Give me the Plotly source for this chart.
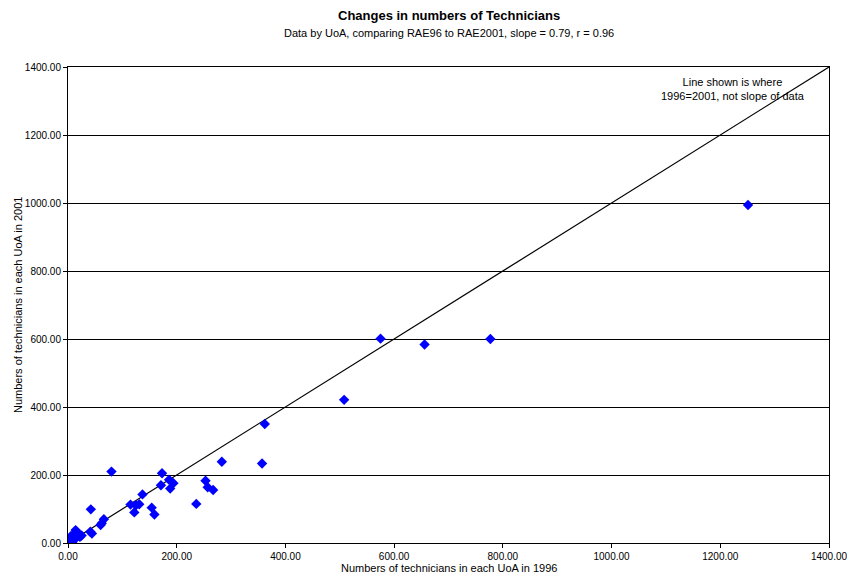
import plotly.graph_objects as go

# Numbers of technicians per UoA
techs_1996 = [1251, 777, 656, 575, 508, 362, 357, 283, 267, 257, 253, 236,
              194, 188, 186, 173, 171, 159, 154, 137, 131, 125, 122, 115,
              80, 66, 62, 60, 42, 44, 41,
              2, 4, 6, 8, 10, 12, 15, 18, 20, 22, 5, 10, 3, 15, 25, 8, 1, 14]
techs_2001 = [994, 600, 584, 601, 421, 350, 234, 239, 156, 164, 183, 115,
              176, 160, 186, 205, 170, 84, 104, 143, 114, 111, 90, 113,
              210, 70, 58, 53, 99, 28, 33,
              2, 8, 12, 18, 22, 28, 32, 30, 25, 18, 20, 10, 4, 15, 22, 3, 0, 38]

line_x = [0, 1400]
line_y = [0, 1400]

tick_vals = [0, 200, 400, 600, 800, 1000, 1200, 1400]
tick_text = ["0.00", "200.00", "400.00", "600.00", "800.00", "1000.00", "1200.00", "1400.00"]

FONT = "Liberation Sans, Arial, sans-serif"

fig = go.Figure()
fig.add_trace(go.Scatter(x=line_x, y=line_y, mode="lines",
                         line=dict(color="black", width=1.2),
                         showlegend=False, hoverinfo="skip"))
fig.add_trace(go.Scatter(x=techs_1996, y=techs_2001, mode="markers",
                         marker=dict(symbol="diamond", color="#0000FF", size=8,
                                     line=dict(width=0)),
                         showlegend=False))

fig.update_layout(
    width=847, height=577,
    margin=dict(l=68, r=18, t=67, b=34),
    paper_bgcolor="white", plot_bgcolor="white",
    font=dict(family=FONT, size=10, color="black"),
    xaxis=dict(range=[0, 1400], tickvals=tick_vals, ticktext=tick_text,
               showgrid=False, zeroline=False, showline=True, linecolor="black",
               linewidth=1, mirror=True, ticks="outside", ticklen=4,
               tickcolor="black", tickfont=dict(size=10, family=FONT),
               ticklabeloverflow="allow", automargin=False),
    yaxis=dict(range=[0, 1400], tickvals=tick_vals, ticktext=tick_text,
               showgrid=True, gridcolor="#000000", gridwidth=1, zeroline=False,
               showline=True, linecolor="black", linewidth=1, mirror=True,
               ticks="outside", ticklen=4, tickcolor="black",
               tickfont=dict(size=10, family=FONT), automargin=False),
    annotations=[
        dict(text="<b>Changes in numbers of Technicians</b>", xref="paper", yref="paper",
             x=0.5, y=1, yshift=52, xanchor="center", yanchor="middle", showarrow=False,
             font=dict(size=13, family=FONT)),
        dict(text="Data by UoA, comparing RAE96 to RAE2001, slope = 0.79, r = 0.96",
             xref="paper", yref="paper", x=0.5, y=1, yshift=34, xanchor="center",
             yanchor="middle", showarrow=False, font=dict(size=11, family=FONT)),
        dict(text="Line shown is where<br>1996=2001, not slope of data",
             xref="paper", yref="paper", x=(732.5 - 68) / 761, y=1, yshift=-22,
             xanchor="center", yanchor="middle", showarrow=False, align="center",
             font=dict(size=11, family=FONT)),
        dict(text="Numbers of technicians in each UoA in 1996", xref="paper", yref="paper",
             x=0.5, y=0, yshift=-25, xanchor="center", yanchor="middle", showarrow=False,
             font=dict(size=11, family=FONT)),
        dict(text="Numbers of technicians in each UoA in 2001", xref="paper", yref="paper",
             x=0, xshift=-50, y=0.5, xanchor="center", yanchor="middle", textangle=-90,
             showarrow=False, font=dict(size=11, family=FONT)),
    ],
)

fig.write_html("out.html", config={"displayModeBar": False})

# remove the default page margin so the figure sits at the window's top-left corner
with open("out.html", "r", encoding="utf-8") as f:
    html = f.read()
html = html.replace("<body>", '<body style="margin:0;padding:0;overflow:hidden">', 1)
with open("out.html", "w", encoding="utf-8") as f:
    f.write(html)
